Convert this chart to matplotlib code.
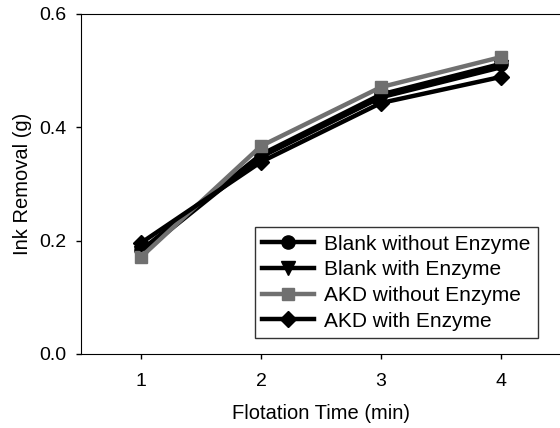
import matplotlib.pyplot as plt

plt.rcParams["font.family"] = ["Liberation Sans", "DejaVu Sans"]

time_min = [1, 2, 3, 4]
blank_no_enz = [0.183, 0.352, 0.458, 0.512]
blank_enz = [0.178, 0.348, 0.453, 0.506]
akd_no_enz = [0.171, 0.367, 0.471, 0.524]
akd_enz = [0.196, 0.339, 0.443, 0.489]

series = [
    ("Blank without Enzyme", blank_no_enz, "o", "black", 9.5),
    ("Blank with Enzyme", blank_enz, "v", "black", 9.5),
    ("AKD without Enzyme", akd_no_enz, "s", "#707070", 8.5),
    ("AKD with Enzyme", akd_enz, "D", "black", 8.5),
]

fig = plt.figure(figsize=(5.6, 4.28), dpi=100)
ax = fig.add_axes([81 / 560, 1 - 354 / 428, 480 / 560, 340 / 428])

for label, vals, mk, col, ms in series:
    ax.plot(time_min, vals, marker=mk, color=col, linewidth=3.2,
            markersize=ms, markeredgecolor=col, label=label)

ax.set_xlim(0.5, 4.5)
ax.set_ylim(0.0, 0.6)
ax.set_xticks(time_min)
ax.set_yticks([0.0, 0.2, 0.4, 0.6])
ax.set_yticklabels(["0.0", "0.2", "0.4", "0.6"])
ax.tick_params(direction="out", length=3.6, labelsize=14, width=1)
ax.tick_params(axis="y", pad=7)
ax.tick_params(axis="x", pad=10)
ax.spines["right"].set_visible(False)
ax.set_xlabel("Flotation Time (min)", fontsize=14.5, labelpad=10)
ax.set_ylabel("Ink Removal (g)", fontsize=14.5, labelpad=5)

leg = ax.legend(loc="lower right", bbox_to_anchor=(0.952, 0.047), fontsize=15,
                frameon=True, fancybox=False, edgecolor="black",
                handlelength=2.5, handletextpad=0.5, borderpad=0.35,
                labelspacing=0.32, borderaxespad=0.0)
leg.get_frame().set_linewidth(1.0)

fig.savefig("out.png", dpi=100)
